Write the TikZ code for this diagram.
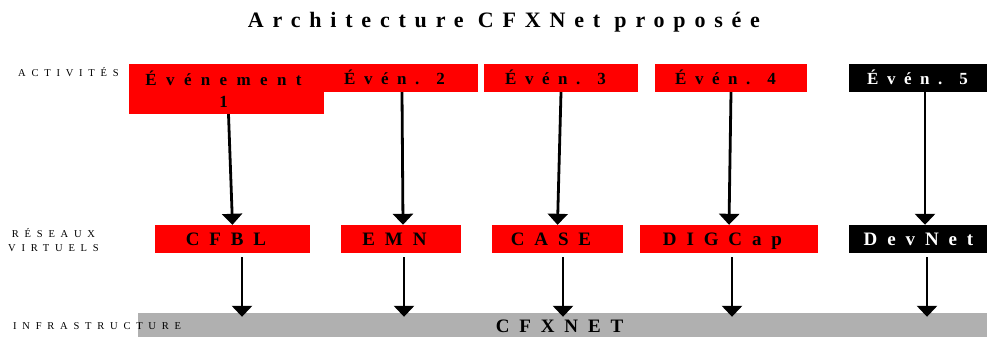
\documentclass[tikz,border=0pt]{standalone}
\usepackage{fontspec}
\setmainfont{Liberation Serif}
\newfontfamily\spTitle{Liberation Serif}[LetterSpace=40]
\newfontfamily\spEv{Liberation Serif}[LetterSpace=50]
\newfontfamily\spEvA{Liberation Serif}[LetterSpace=55]
\newfontfamily\spNet{Liberation Serif}[LetterSpace=52]
\newfontfamily\spLbl{Liberation Serif}[LetterSpace=55]
\usetikzlibrary{arrows.meta,calc}
\definecolor{evred}{RGB}{255,0,0}
\definecolor{bargray}{RGB}{176,176,176}
\begin{document}
\begin{tikzpicture}[x=1pt,y=-1pt,
  lbl/.style={inner sep=0pt, font=\fontsize{10.5}{14}\selectfont\spLbl},
  evbox/.style={fill=evred, inner sep=0pt, minimum height=28pt, text height=14pt, text depth=2pt,
    font=\fontsize{17}{22}\selectfont\spEv\bfseries, execute at end node={\hspace*{11pt}}},
  netbox/.style={fill=evred, inner sep=0pt, minimum height=28pt, text height=13pt, text depth=1pt,
    font=\fontsize{19}{22}\selectfont\spNet\bfseries, execute at end node={\hspace*{13pt}}},
  darkbox/.style={fill=black, text=white},
  arr/.style={line width=2.8pt, -{Triangle[width=20pt,length=11pt]}}]
\useasboundingbox (0,0) rectangle (987,337);

% title
\node[anchor=base, inner sep=0pt, font=\fontsize{22}{26}\selectfont\spTitle\bfseries] (title) at (504,28) {Architecture CFXNet proposée};

% infrastructure bar
\node[fill=bargray, inner sep=0pt, minimum width=857pt, minimum height=26pt, text height=13pt, text depth=1pt,
  font=\fontsize{19}{22}\selectfont\spNet\bfseries, execute at end node={\hspace*{14pt}}] (infra) at (566.5,326) {CFXNET};

% activities
\node[fill=evred, inner sep=0pt, minimum width=195pt, minimum height=50pt, align=center,
  font=\fontsize{17}{22}\selectfont\spEvA\bfseries] (e1) at (226.5,89) {Événement\hspace*{6pt}\\1\hspace*{6pt}};
\node[evbox, minimum width=156pt] (e2) at (400,78) {Évén. 2};
\node[evbox, minimum width=154pt] (e3) at (561,78) {Évén. 3};
\node[evbox, minimum width=152pt] (e4) at (731,78) {Évén. 4};
\node[evbox, darkbox, minimum width=148pt] (e5) at (923,78) {Évén. 5};

% virtual networks
\node[netbox, minimum width=155pt] (n1) at (232.5,239) {CFBL};
\node[netbox, minimum width=120pt] (n2) at (401,239) {EMN};
\node[netbox, minimum width=131pt] (n3) at (557.5,239) {CASE};
\node[netbox, minimum width=178pt] (n4) at (729,239) {DIGCap};
\node[netbox, darkbox, minimum width=152pt] (n5) at (925,239) {DevNet};

% arrows activities -> networks
\draw[arr] ($(e1.south)+(2pt,0pt)$) -- (n1.north);
\draw[arr] ($(e2.south)+(2pt,0pt)$) -- ($(n2.north)+(2pt,0pt)$);
\draw[arr] (e3.south) -- (n3.north);
\draw[arr] (e4.south) -- (n4.north);
\draw[arr] ($(e5.south)+(2pt,0pt)$) -- (n5.north);

% arrows networks -> infrastructure
\draw[arr] ($(n1.south)+(9.5pt,-4pt)$) -- ($(n1.south |- infra.north)+(9.5pt,-4pt)$);
\draw[arr] ($(n2.south)+(3pt,-4pt)$) -- ($(n2.south |- infra.north)+(3pt,-4pt)$);
\draw[arr] ($(n3.south)+(5.5pt,-4pt)$) -- ($(n3.south |- infra.north)+(5.5pt,-4pt)$);
\draw[arr] ($(n4.south)+(3pt,-4pt)$) -- ($(n4.south |- infra.north)+(3pt,-4pt)$);
\draw[arr] ($(n5.south)+(2pt,-4pt)$) -- ($(n5.south |- infra.north)+(2pt,-4pt)$);

% layer labels
\node[lbl, anchor=base west] (lact) at (18,76) {ACTIVITÉS};
\node[lbl, anchor=north, align=center] (lres) at (53.5,228) {RÉSEAUX\\VIRTUELS};
\node[lbl, anchor=base west] (linf) at (13,329) {INFRASTRUCTURE};
\end{tikzpicture}
\end{document}
